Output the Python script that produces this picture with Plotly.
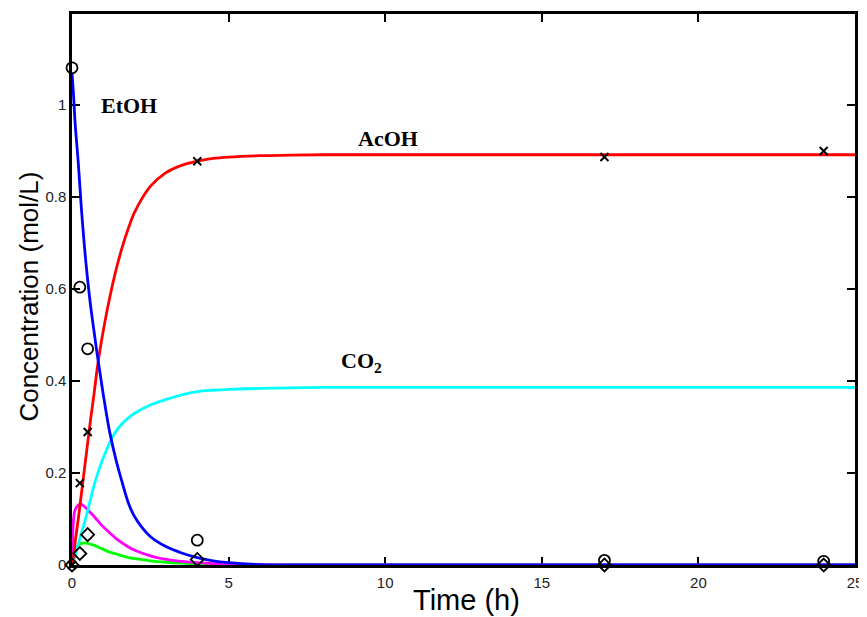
import plotly.graph_objects as go

# ---- measured data (markers) ----
etoh_t = [0, 0.25, 0.5, 4, 17, 24]
etoh_c = [1.081, 0.604, 0.470, 0.054, 0.010, 0.008]

acoh_t = [0, 0.25, 0.5, 4, 17, 24]
acoh_c = [0.0, 0.178, 0.289, 0.878, 0.887, 0.900]

inter_t = [0, 0.25, 0.5, 4, 17, 24]
inter_c = [0.0, 0.025, 0.066, 0.012, 0.0, 0.0]

# ---- model curves ----
curve_t = [0, 0.05, 0.1, 0.2, 0.3, 0.4, 0.5, 0.6, 0.7, 0.8, 0.9, 1.0, 1.2, 1.4,
           1.6, 1.8, 2.0, 2.5, 3.0, 3.5, 4.0, 4.5, 5.0, 6.0, 7.0, 8.0, 10, 15, 20, 25]
etoh_fit = [1.07, 1.02, 0.96, 0.875, 0.775, 0.69, 0.62, 0.56, 0.51, 0.46, 0.415, 0.37,
            0.29, 0.23, 0.18, 0.135, 0.105, 0.062, 0.040, 0.026, 0.016, 0.009, 0.005,
            0.001, 0.0, 0.0, 0.0, 0.0, 0.0, 0.0]
acoh_fit = [0.0, 0.02, 0.05, 0.10, 0.155, 0.21, 0.265, 0.32, 0.37, 0.425, 0.47, 0.51,
            0.58, 0.64, 0.69, 0.732, 0.767, 0.823, 0.853, 0.869, 0.878, 0.884, 0.887,
            0.89, 0.891, 0.892, 0.892, 0.892, 0.892, 0.892]
co2_fit = [0.0, 0.008, 0.02, 0.045, 0.07, 0.092, 0.118, 0.145, 0.172, 0.195, 0.215, 0.233,
           0.265, 0.29, 0.307, 0.32, 0.33, 0.348, 0.36, 0.37, 0.377, 0.38, 0.382,
           0.384, 0.385, 0.386, 0.386, 0.386, 0.386, 0.386]
mag_fit = [0.0, 0.10, 0.12, 0.13, 0.132, 0.127, 0.12, 0.113, 0.106, 0.098, 0.09, 0.083,
           0.07, 0.058, 0.048, 0.039, 0.032, 0.02, 0.012, 0.008, 0.005, 0.003, 0.002,
           0.001, 0.0, 0.0, 0.0, 0.0, 0.0, 0.0]
grn_fit = [0.0, 0.025, 0.035, 0.043, 0.047, 0.048, 0.047, 0.045, 0.043, 0.040, 0.037, 0.034,
           0.028, 0.024, 0.020, 0.016, 0.014, 0.009, 0.006, 0.004, 0.002, 0.001, 0.001,
           0.0, 0.0, 0.0, 0.0, 0.0, 0.0, 0.0]

x_ticks = [0, 5, 10, 15, 20, 25]
y_ticks = [0, 0.2, 0.4, 0.6, 0.8, 1]
y_tick_text = ["0", "0.2", "0.4", "0.6", "0.8", "1"]

fig = go.Figure()

line_w = 2.8
for ys, col in [(grn_fit, "#00ff00"), (mag_fit, "#ff00ff"), (co2_fit, "#00ffff"),
                (acoh_fit, "#ff0000"), (etoh_fit, "#0000ff")]:
    fig.add_trace(go.Scatter(x=curve_t, y=ys, mode="lines",
                             line=dict(color=col, width=line_w, shape="spline", smoothing=0.9),
                             showlegend=False, hoverinfo="skip"))

fig.add_trace(go.Scatter(x=etoh_t, y=etoh_c, mode="markers", cliponaxis=False,
                         marker=dict(symbol="circle-open", size=11, color="black",
                                     line=dict(width=1.8, color="black")),
                         showlegend=False))
fig.add_trace(go.Scatter(x=acoh_t, y=acoh_c, mode="markers", cliponaxis=False,
                         marker=dict(symbol="x-thin-open", size=8, color="black",
                                     line=dict(width=2, color="black")),
                         showlegend=False))
fig.add_trace(go.Scatter(x=inter_t, y=inter_c, mode="markers", cliponaxis=False,
                         marker=dict(symbol="diamond-open", size=10, color="black",
                                     line=dict(width=1.8, color="black")),
                         showlegend=False))

label_font = dict(family="Liberation Serif", size=22, color="black")
fig.add_annotation(x=1.82, y=1.0, text="<b>EtOH</b>", showarrow=False, font=label_font)
fig.add_annotation(x=10.1, y=0.928, text="<b>AcOH</b>", showarrow=False, font=label_font)
fig.add_annotation(x=9.23, y=0.442, text="<b>CO<sub>2</sub></b>", showarrow=False, font=label_font)

title_font = dict(family="Liberation Sans, Arial", color="black")
fig.add_annotation(xref="paper", yref="paper", x=0.504, y=-0.063, text="Time (h)",
                   showarrow=False, font=dict(size=29, **title_font),
                   xanchor="center", yanchor="middle")
fig.add_annotation(xref="paper", yref="paper", x=-0.055, y=0.487, text="Concentration (mol/L)",
                   showarrow=False, textangle=-90, font=dict(size=26, **title_font),
                   xanchor="center", yanchor="middle")

axis_common = dict(showgrid=False, zeroline=False, showline=True, linecolor="black",
                   linewidth=2.5, mirror="ticks", ticks="inside", ticklen=8, tickwidth=2,
                   tickcolor="black", layer="below traces",
                   tickfont=dict(family="Liberation Sans, Arial", size=15, color="#222"))

fig.update_xaxes(range=[0, 25], tickvals=x_ticks, ticktext=[str(v) for v in x_ticks],
                 ticklabelstandoff=2, **axis_common)
fig.update_yaxes(range=[0, 1.198], tickvals=y_ticks, ticktext=y_tick_text, **axis_common)

# page body adds an 8px offset, so margins are shifted to keep the plot area in place
fig.update_layout(width=867, height=617, plot_bgcolor="white", paper_bgcolor="white",
                  margin=dict(l=64, r=20, t=3, b=60), showlegend=False)

fig.write_html("out.html")
